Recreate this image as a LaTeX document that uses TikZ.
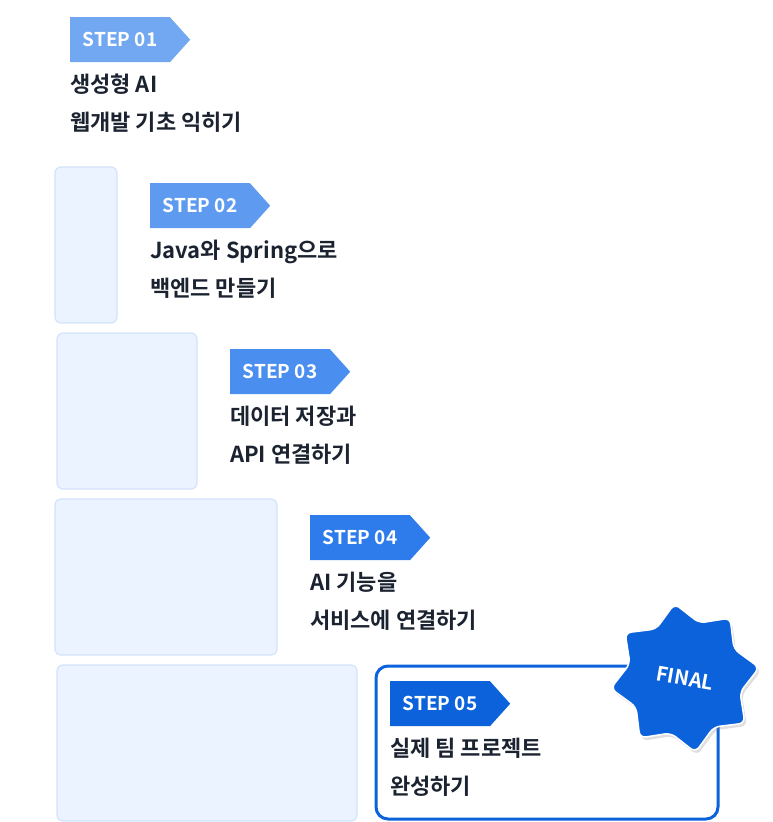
\documentclass[tikz,border=0pt]{standalone}
\usepackage{fontspec}
\setmainfont{Noto Sans CJK KR Bold}
\usetikzlibrary{shapes.symbols, shapes.geometric, positioning, shadows}
\definecolor{tagA}{HTML}{72A8F2}
\definecolor{tagB}{HTML}{5E9BF0}
\definecolor{tagC}{HTML}{4A8EF0}
\definecolor{tagD}{HTML}{2E7CEB}
\definecolor{tagE}{HTML}{0B62DB}
\definecolor{ink}{HTML}{1B2230}
\definecolor{pale}{HTML}{EAF3FF}
\definecolor{paleline}{HTML}{D3E3FA}
\begin{document}
\begin{tikzpicture}[x=1pt,y=-1pt,
  steptag/.style={signal, signal to=east, signal pointer angle=96, anchor=north west,
    minimum height=45pt, minimum width=120pt, inner xsep=9pt, align=left,
    text=white, font=\fontsize{19}{19}\selectfont},
  steptext/.style={align=left, inner sep=0pt, text=ink,
    font=\fontsize{22}{38}\selectfont},
  bar/.style={draw=paleline, fill=pale, rounded corners=6pt, line width=1.2pt}]
  \useasboundingbox (0,0) rectangle (772,822);
  % stair blocks
  \draw[bar] (55,167) rectangle (117,323);
  \draw[bar] (57,333) rectangle (197,489);
  \draw[bar] (55,499) rectangle (277,655);
  \draw[bar] (57,665) rectangle (357,821);
  \draw[draw=tagE, line width=3pt, rounded corners=12pt, fill=white] (376,666) rectangle (718,819);
  % steps
  \node[steptag, fill=tagA] (s1) at (70,17) {STEP 01};
  \node[steptext, below right=11pt and 0pt of s1.south west] (t1) {생성형 AI\\웹개발 기초 익히기};
  \node[steptag, fill=tagB] (s2) at (150,183) {STEP 02};
  \node[steptext, below right=11pt and 0pt of s2.south west] (t2) {Java와 Spring으로\\백엔드 만들기};
  \node[steptag, fill=tagC] (s3) at (230,349) {STEP 03};
  \node[steptext, below right=11pt and 0pt of s3.south west] (t3) {데이터 저장과\\API 연결하기};
  \node[steptag, fill=tagD] (s4) at (310,515) {STEP 04};
  \node[steptext, below right=11pt and 0pt of s4.south west] (t4) {AI 기능을\\서비스에 연결하기};
  \node[steptag, fill=tagE] (s5) at (390,681) {STEP 05};
  \node[steptext, below right=11pt and 0pt of s5.south west] (t5) {실제 팀 프로젝트\\완성하기};
  % badge
  \node[star, star points=8, star point ratio=1.32, minimum size=150pt, fill=tagE,
    draw=white, line width=1.5pt, rounded corners=6pt, rotate=8,
    drop shadow={opacity=0.25, shadow xshift=2pt, shadow yshift=-3pt}] (badge) at (685,678) {};
  \node[text=white, font=\fontsize{20}{20}\selectfont, rotate=-10] (final) at (badge.center) {FINAL};
\end{tikzpicture}
\end{document}
